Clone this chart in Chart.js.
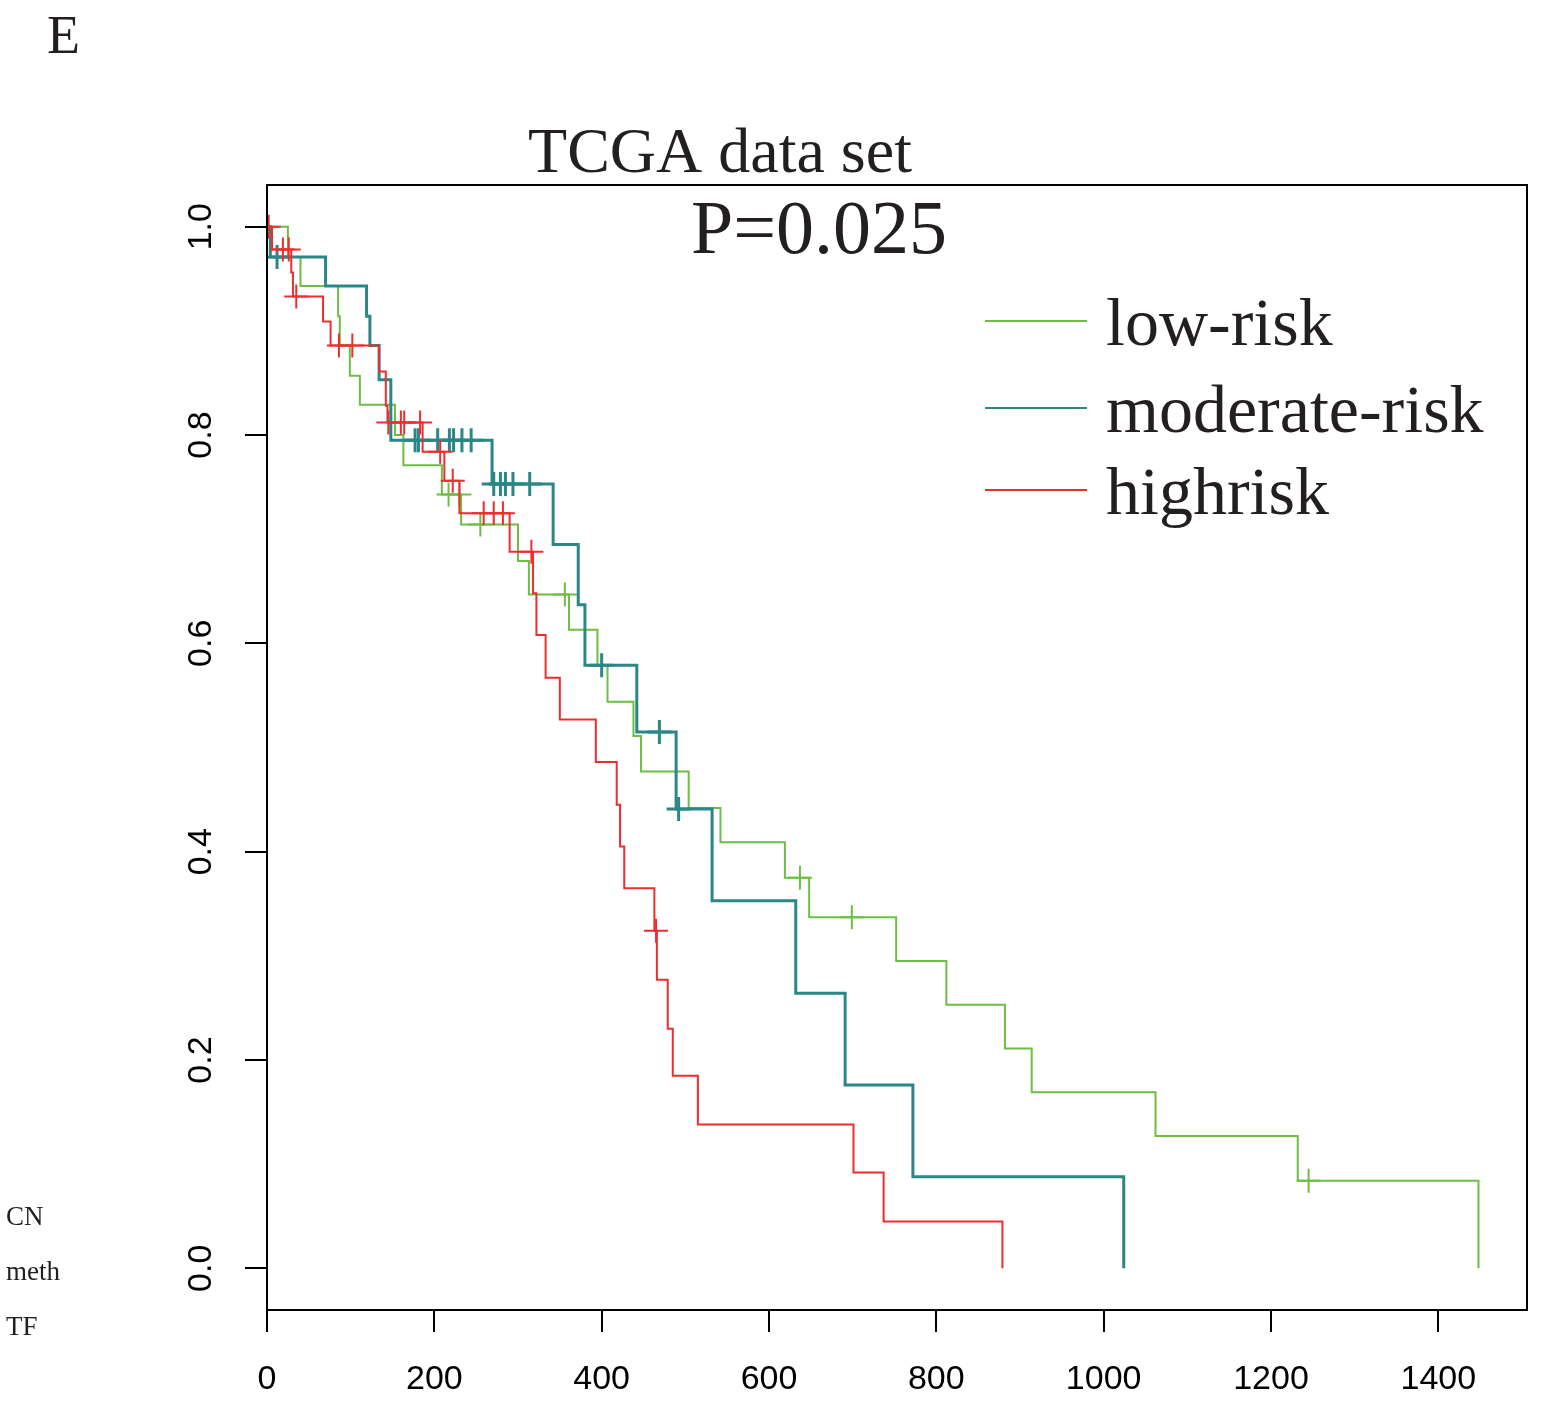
<!DOCTYPE html>
<html><head><meta charset="utf-8">
<script src="https://cdn.jsdelivr.net/npm/chart.js@4/dist/chart.umd.min.js"></script>
<style>html,body{margin:0;padding:0;background:#fff;overflow:hidden}canvas{display:block}</style>
</head><body>
<canvas id="c" width="1547" height="1401"></canvas>
<script>
// ---- data ----
const seriesNames = ['low-risk', 'moderate-risk', 'highrisk'];
const seriesColors = ['#6DBE45', '#2A8786', '#EE2E2E'];

const lowTime = [0, 25, 40, 85, 87, 99, 111, 153, 163, 209, 232, 300, 313, 361, 395, 407, 438, 447, 504, 542, 619, 648, 752, 812, 882, 914, 1062, 1232, 1448];
const lowSurv = [1.0, 0.971, 0.943, 0.914, 0.886, 0.857, 0.829, 0.800, 0.771, 0.743, 0.714, 0.679, 0.647, 0.613, 0.579, 0.544, 0.511, 0.477, 0.442, 0.409, 0.375, 0.337, 0.295, 0.253, 0.211, 0.169, 0.127, 0.084, 0];
const lowCensor = [217, 230, 255, 356, 637, 699, 1245];

const modTime = [0, 4, 70, 119, 123, 134, 148, 269, 342, 372, 380, 442, 489, 532, 632, 691, 772, 1024];
const modSurv = [1.0, 0.971, 0.943, 0.914, 0.886, 0.853, 0.795, 0.753, 0.695, 0.637, 0.579, 0.515, 0.441, 0.353, 0.264, 0.176, 0.088, 0];
const modCensor = [12, 177, 181, 204, 218, 223, 233, 244, 271, 279, 285, 294, 314, 400, 469, 492];

const highTime = [0, 6, 29, 31, 67, 76, 134, 142, 144, 186, 212, 230, 290, 318, 322, 333, 350, 393, 418, 422, 427, 463, 466, 479, 485, 515, 701, 737, 879];
const highSurv = [1.0, 0.978, 0.956, 0.933, 0.909, 0.886, 0.861, 0.828, 0.812, 0.784, 0.756, 0.725, 0.688, 0.648, 0.608, 0.567, 0.527, 0.486, 0.445, 0.405, 0.365, 0.324, 0.277, 0.230, 0.185, 0.138, 0.092, 0.045, 0];
const highCensor = [2, 19, 26, 35, 86, 102, 145, 160, 164, 183, 207, 222, 259, 271, 282, 316, 465];

const xTicks = [0, 200, 400, 600, 800, 1000, 1200, 1400];
const yTicks = [0, 0.2, 0.4, 0.6, 0.8, 1.0];
const yTickLabels = ['0.0', '0.2', '0.4', '0.6', '0.8', '1.0'];

const titleText = 'TCGA data set';
const pText = 'P=0.025';
const panelLetter = 'E';
const sideLabels = ['CN', 'meth', 'TF'];

// ---- helpers ----
function steps(t, s) { return t.map((v, i) => ({x: v, y: s[i]})); }
function survAt(t, s, x) { let v = s[0]; for (let i = 0; i < t.length; i++) if (t[i] <= x) v = s[i]; return v; }
function censors(c, t, s) { return c.map(x => ({x: x, y: survAt(t, s, x)})); }

const lineSets = [
  {t: highTime, s: highSurv, c: highCensor, col: seriesColors[2], w: 2},
  {t: modTime, s: modSurv, c: modCensor, col: seriesColors[1], w: 3},
  {t: lowTime, s: lowSurv, c: lowCensor, col: seriesColors[0], w: 2}
];
const datasets = [];
lineSets.forEach(d => {
  datasets.push({type: 'scatter', data: censors(d.c, d.t, d.s), showLine: false, pointStyle: 'cross',
    pointRadius: 12, pointHoverRadius: 12, borderColor: d.col, backgroundColor: d.col, pointBorderWidth: d.w, borderWidth: d.w});
  datasets.push({type: 'line', data: steps(d.t, d.s), stepped: 'before', borderColor: d.col, borderWidth: d.w,
    pointRadius: 0, fill: false, tension: 0});
});

const SERIF = '"Liberation Serif", "Times New Roman", serif';
const SANS = '"Liberation Sans", Arial, sans-serif';
const TXT = '#231f20';

const decor = {
  id: 'decor',
  beforeDraw(chart) {
    const ctx = chart.ctx;
    ctx.save(); ctx.fillStyle = '#fff'; ctx.fillRect(0, 0, chart.width, chart.height); ctx.restore();
  },
  afterDraw(chart) {
    const ctx = chart.ctx, a = chart.chartArea;
    ctx.save();
    ctx.strokeStyle = '#000'; ctx.lineWidth = 2;
    ctx.strokeRect(a.left, a.top, a.right - a.left, a.bottom - a.top);
    ctx.fillStyle = TXT;
    ctx.textBaseline = 'alphabetic';
    ctx.textAlign = 'center';
    ctx.font = '64px ' + SERIF;
    ctx.fillText(titleText, 720, 172);
    ctx.font = '76px ' + SERIF;
    ctx.fillText(pText, 819, 253);
    ctx.textAlign = 'left';
    ctx.font = '54px ' + SERIF;
    ctx.fillText(panelLetter, 47, 53);
    ctx.font = '27px ' + SERIF;
    const sy = [1225, 1280, 1335];
    sideLabels.forEach((l, i) => ctx.fillText(l, 6, sy[i]));
    // legend
    const ly = [321, 408, 490];
    const order = [0, 1, 2];
    ctx.font = '68px ' + SERIF;
    order.forEach((k, i) => {
      ctx.strokeStyle = seriesColors[k]; ctx.lineWidth = 2;
      ctx.beginPath(); ctx.moveTo(985, ly[i]); ctx.lineTo(1087, ly[i]); ctx.stroke();
      ctx.fillStyle = TXT;
      ctx.fillText(seriesNames[k], 1106, ly[i] + 24);
    });
    ctx.restore();
  }
};

new Chart(document.getElementById('c'), {
  data: {datasets},
  options: {
    responsive: false, animation: false, devicePixelRatio: 1, events: [],
    layout: {padding: {left: 0, top: 185, right: 20, bottom: 0}},
    plugins: {legend: {display: false}, tooltip: {enabled: false}, title: {display: false}},
    scales: {
      x: {type: 'linear', position: 'bottom', min: 0, max: 1506,
        afterBuildTicks: s => { s.ticks = xTicks.map(v => ({value: v})); },
        afterFit: s => { s.height = 91; },
        ticks: {autoSkip: false, maxRotation: 0, minRotation: 0, padding: 27, color: '#000',
          font: {family: SANS, size: 34}, callback: v => String(v)},
        grid: {drawOnChartArea: false, drawTicks: true, tickLength: 22, color: '#000', lineWidth: 2},
        border: {display: false}},
      y: {type: 'linear', position: 'left', min: -0.04, max: 1.04,
        afterBuildTicks: s => { s.ticks = yTicks.map(v => ({value: v})); },
        afterFit: s => { s.width = 267; },
        ticks: {autoSkip: false, maxRotation: 90, minRotation: 90, padding: 20, crossAlign: 'center', color: '#000',
          font: {family: SANS, size: 34}, callback: v => yTickLabels[yTicks.findIndex(t => Math.abs(t - v) < 1e-9)]},
        grid: {drawOnChartArea: false, drawTicks: true, tickLength: 22, color: '#000', lineWidth: 2},
        border: {display: false}}
    }
  },
  plugins: [decor]
});
</script>
</body></html>
